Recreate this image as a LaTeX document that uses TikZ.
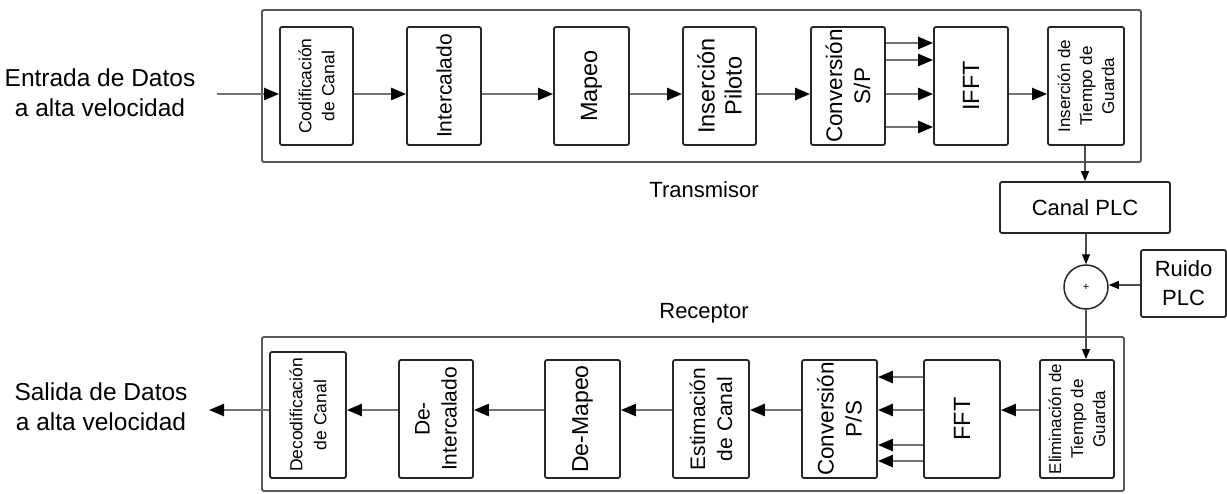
\documentclass[tikz,border=0pt]{standalone}
\usepackage{fontspec}
\setmainfont{Liberation Sans}
\usetikzlibrary{arrows.meta,calc}
\begin{document}
\begin{tikzpicture}[x=1pt,y=-1pt,
  blk/.style={draw=black!85,line width=1.8pt,rounded corners=2pt,inner sep=0pt,fill=white},
  outer/.style={draw=black!65,line width=1.8pt,rounded corners=1.5pt},
  arr/.style={draw=black!55,line width=2.4pt,-{Triangle[length=15pt,width=12pt,color=black]}},
  thinarr/.style={draw=black!70,line width=1.2pt,-{Triangle[length=10pt,width=8pt,color=black]}},
  big/.style={font=\fontsize{23.5}{30}\selectfont,align=center},
  mid/.style={font=\fontsize{21}{27}\selectfont,align=center},
  small/.style={font=\fontsize{17.5}{23}\selectfont,align=center},
  vtxt/.style={rotate=90,inner sep=0pt}
]
\useasboundingbox (0,0) rectangle (1227,493);
% outer boxes
\node[outer,minimum width=879pt,minimum height=152pt,inner sep=0pt] (tx) at (701.5,86) {};
\node[outer,minimum width=862pt,minimum height=154pt,inner sep=0pt] (rx) at (693,414) {};
% level coordinates
\coordinate (ya) at (0,94);
\coordinate (yb) at (0,410);
% transmitter blocks
\node[blk,minimum width=73pt,minimum height=118pt] (cod) at (316.5,86) {};
\node[blk,minimum width=74pt,minimum height=118pt] (int) at (444,86) {};
\node[blk,minimum width=75pt,minimum height=118pt] (map) at (591.5,86) {};
\node[blk,minimum width=73pt,minimum height=118pt] (ins) at (719.5,86) {};
\node[blk,minimum width=74pt,minimum height=118pt] (sp) at (848,86) {};
\node[blk,minimum width=74pt,minimum height=118pt] (ifft) at (971,86) {};
\node[blk,minimum width=76pt,minimum height=118pt] (guard) at (1086,86) {};
\node[vtxt,small] at (cod) {Codificación\\de Canal};
\node[vtxt,mid] at (int) {Intercalado};
\node[vtxt,big] at (map) {Mapeo};
\node[vtxt,big,font=\fontsize{23.5}{27}\selectfont] at (ins) {Inserción\\Piloto};
\node[vtxt,big,font=\fontsize{22.5}{28}\selectfont] at (sp) {Conversión\\S/P};
\node[vtxt,big] at (ifft) {IFFT};
\node[vtxt,small,font=\fontsize{17}{22}\selectfont] at (guard) {Inserción de\\Tiempo de\\Guarda};
% receiver blocks
\node[blk,minimum width=76pt,minimum height=126pt] (decod) at (308,415) {};
\node[blk,minimum width=74pt,minimum height=118pt] (deint) at (436,419) {};
\node[blk,minimum width=75pt,minimum height=118pt] (demap) at (582.5,419) {};
\node[blk,minimum width=76pt,minimum height=118pt] (est) at (711,419) {};
\node[blk,minimum width=75pt,minimum height=118pt] (ps) at (839.5,419) {};
\node[blk,minimum width=76pt,minimum height=118pt] (fft) at (962,419) {};
\node[blk,minimum width=74pt,minimum height=118pt] (elim) at (1077,419) {};
\node[vtxt,small,font=\fontsize{17.5}{24}\selectfont] at (decod) {Decodificación\\de Canal};
\node[vtxt,mid] at (deint) {De-\\Intercalado};
\node[vtxt,mid,font=\fontsize{23}{28}\selectfont] at (demap) {De-Mapeo};
\node[vtxt,mid,font=\fontsize{21}{27}\selectfont] at (est) {Estimación\\de Canal};
\node[vtxt,big,font=\fontsize{22.5}{28}\selectfont] at (ps) {Conversión\\P/S};
\node[vtxt,big] at (fft) {FFT};
\node[vtxt,small,font=\fontsize{17}{22}\selectfont] at (elim) {Eliminación de\\Tiempo de\\Guarda};
% channel
\node[blk,minimum width=170pt,minimum height=51pt,big,font=\fontsize{22}{28}\selectfont] (canal) at (1085,207.5) {Canal PLC};
\node[draw=black!85,line width=1.5pt,circle,minimum size=44pt,inner sep=0pt,fill=white,font=\fontsize{11}{12}\selectfont] (sum) at (1086,287) {+};
\node[blk,minimum width=85pt,minimum height=67pt,big,font=\fontsize{22}{29}\selectfont] (ruido) at (1183.5,283.5) {Ruido\\PLC};
% texts
\node[big,font=\fontsize{24.5}{30}\selectfont] (in) at (100,93) {Entrada de Datos\\a alta velocidad};
\node[big,font=\fontsize{24.5}{30}\selectfont] (out) at (101,407) {Salida de Datos\\a alta velocidad};
\node[big,font=\fontsize{22}{28}\selectfont] (txl) at (704,190) {Transmisor};
\node[big,font=\fontsize{22}{28}\selectfont] (rxl) at (704,313) {Receptor};
% transmitter arrows
\coordinate (inA) at (217,94);
\draw[arr] (inA) -- (cod.west |- ya);
\draw[arr] (cod.east |- ya) -- (int.west |- ya);
\draw[arr] (int.east |- ya) -- (map.west |- ya);
\draw[arr] (map.east |- ya) -- (ins.west |- ya);
\draw[arr] (ins.east |- ya) -- (sp.west |- ya);
\foreach \yy in {43,60,94,127} {
  \draw[arr] (sp.east |- 0,\yy) -- (ifft.west |- 0,\yy);
}
\draw[arr] (ifft.east |- ya) -- (guard.west |- ya);
% channel arrows
\draw[thinarr] (guard.south -| canal.north) -- (canal.north);
\draw[thinarr] (canal.south -| sum.north) -- (sum.north);
\draw[thinarr] (ruido.west |- 0,285) -- (sum.east |- 0,285);
\draw[thinarr] (sum.south) -- (elim.north -| sum.south);
% receiver arrows
\draw[arr] (elim.west |- yb) -- (fft.east |- yb);
\foreach \yy in {377,410,445,461} {
  \draw[arr] (fft.west |- 0,\yy) -- (ps.east |- 0,\yy);
}
\draw[arr] (ps.west |- yb) -- (est.east |- yb);
\draw[arr] (est.west |- yb) -- (demap.east |- yb);
\draw[arr] (demap.west |- yb) -- (deint.east |- yb);
\draw[arr] (deint.west |- yb) -- (decod.east |- yb);
\coordinate (outA) at (209,410);
\draw[arr] (decod.west |- yb) -- (outA);
\end{tikzpicture}
\end{document}
